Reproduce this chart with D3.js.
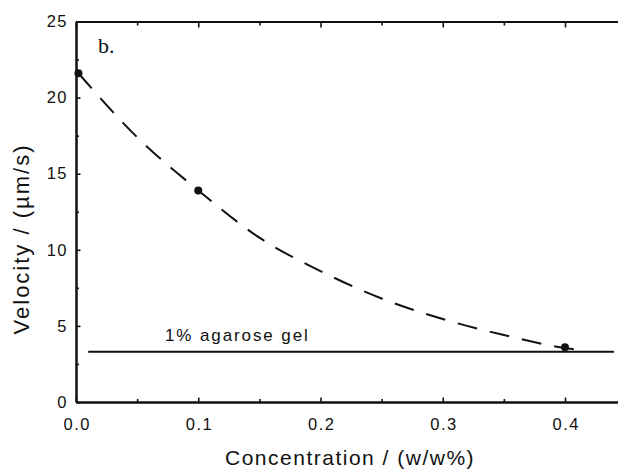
<!DOCTYPE html>
<html>
<head>
<meta charset="utf-8">
<script src="https://cdn.jsdelivr.net/npm/d3@7"></script>
<style>
  html, body { margin: 0; padding: 0; background: #fff; }
  svg { display: block; }
  text { font-family: "Liberation Sans", Arial, Helvetica, sans-serif; fill: #111; }
</style>
</head>
<body>
<svg id="chart" width="618" height="470"></svg>
<script>
// ---- data ----
const concentration = [0.002, 0.1, 0.4];          // measured points (w/w%)
const velocity      = [21.6, 13.9, 3.6];          // µm/s
const fitX = [0.002, 0.05, 0.1, 0.15, 0.2, 0.25, 0.3, 0.35, 0.4, 0.408];
const fitY = [21.6, 17.4, 13.9, 10.8, 8.6, 6.8, 5.45, 4.4, 3.55, 3.46];
const agaroseLevel = 3.3;
const agaroseRange = [0.01, 0.44];
const agaroseLabel = "1% agarose gel";
const xTicks = [0.0, 0.1, 0.2, 0.3, 0.4];
const xTickLabels = ["0.0", "0.1", "0.2", "0.3", "0.4"];
const yTicks = [0, 5, 10, 15, 20, 25];
const xLabel = "Concentration / (w/w%)";
const yLabel = "Velocity / (µm/s)";
const panelLabel = "b.";

// ---- layout ----
const svg = d3.select("#chart");
const x = d3.scaleLinear().domain([0, 0.45]).range([76, 76 + 0.45 * 1222.5]);
const y = d3.scaleLinear().domain([0, 25]).range([402, 21.5]);
const ink = "#111";

// axes lines
const g = svg.append("g");
// left axis
const yAxis = d3.axisLeft(y).tickValues(yTicks).tickSizeInner(-4.5).tickSizeOuter(0).tickPadding(8)
  .tickFormat(d3.format("d"));
const gy = g.append("g").attr("transform", `translate(${x(0)},0)`).call(yAxis);
const yMinor = d3.axisLeft(y).tickValues(d3.range(2.5, 25, 5)).tickSizeInner(-3).tickSizeOuter(0).tickFormat("");
g.append("g").attr("transform", `translate(${x(0)},0)`).call(yMinor);

// bottom axis
const xAxis = d3.axisBottom(x).tickValues(xTicks).tickSizeInner(-4.5).tickSizeOuter(0).tickPadding(16)
  .tickFormat((d, i) => xTickLabels[i]);
const gx = g.append("g").attr("transform", `translate(0,${y(0)})`).call(xAxis);
const xMinor = d3.axisBottom(x).tickValues(d3.range(0.05, 0.45, 0.1)).tickSizeInner(-3).tickSizeOuter(0).tickFormat("");
g.append("g").attr("transform", `translate(0,${y(0)})`).call(xMinor);

// top axis
const xTop = d3.axisTop(x).tickValues(xTicks).tickSizeInner(-6).tickSizeOuter(0).tickFormat("");
g.append("g").attr("transform", `translate(0,${y(25)})`).call(xTop);
const xTopMinor = d3.axisTop(x).tickValues(d3.range(0.05, 0.45, 0.1)).tickSizeInner(-4).tickSizeOuter(0).tickFormat("");
g.append("g").attr("transform", `translate(0,${y(25)})`).call(xTopMinor);

g.selectAll(".domain").attr("stroke", ink).attr("stroke-width", 2);
g.selectAll(".tick line").attr("stroke", ink).attr("stroke-width", 1.6);
g.selectAll(".tick text")
  .style("font-size", "16.5px")
  .style("letter-spacing", "1.5px")
  .attr("fill", ink);
gx.selectAll(".tick text").attr("dx", "0.75px");

// agarose reference line
svg.append("line")
  .attr("x1", x(agaroseRange[0])).attr("x2", x(agaroseRange[1]))
  .attr("y1", y(agaroseLevel)).attr("y2", y(agaroseLevel))
  .attr("stroke", ink).attr("stroke-width", 2);
svg.append("text")
  .attr("x", 165).attr("y", y(agaroseLevel) - 11)
  .style("font-size", "17px").style("letter-spacing", "1.9px")
  .text(agaroseLabel);

// dashed fit curve
const fit = fitX.map((d, i) => [d, fitY[i]]);
svg.append("path")
  .datum(fit)
  .attr("fill", "none").attr("stroke", ink).attr("stroke-width", 2)
  .attr("stroke-dasharray", "20,13")
  .attr("d", d3.line().x(d => x(d[0])).y(d => y(d[1])).curve(d3.curveMonotoneX));

// points
svg.selectAll("circle.pt")
  .data(concentration.map((d, i) => [d, velocity[i]]))
  .join("circle").attr("class", "pt")
  .attr("cx", d => x(d[0])).attr("cy", d => y(d[1])).attr("r", 4)
  .attr("fill", ink);

// labels
svg.append("text")
  .attr("x", 225).attr("y", 465)
  .style("font-size", "21px").style("letter-spacing", "1.5px")
  .text(xLabel);
svg.append("text")
  .attr("transform", "translate(28.5,239) rotate(-90)")
  .attr("text-anchor", "middle")
  .style("font-size", "22px").style("letter-spacing", "2px")
  .text(yLabel);
svg.append("text")
  .attr("x", 98).attr("y", 53)
  .style("font-family", "'Liberation Serif', 'Times New Roman', serif")
  .style("font-size", "22px")
  .text(panelLabel);
</script>
</body>
</html>
